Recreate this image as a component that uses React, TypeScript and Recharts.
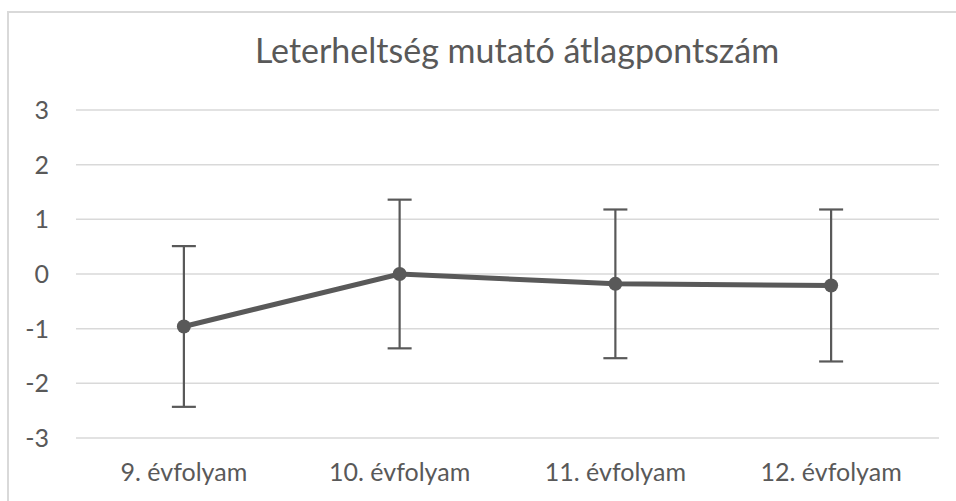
import { CartesianGrid, ErrorBar, Line, LineChart, XAxis, YAxis } from 'recharts';

const grades = ['9. évfolyam', '10. évfolyam', '11. évfolyam', '12. évfolyam'];
const meanScores = [-0.96, 0.0, -0.18, -0.21];
const errorSizes = [1.47, 1.36, 1.36, 1.39];
const yTicks = [-3, -2, -1, 0, 1, 2, 3];

const chartData = grades.map((grade, i) => ({
  grade,
  mean: meanScores[i],
  err: errorSizes[i],
}));

const ink = '#595959';
const fontFamily = "'Gill Sans', 'Gill Sans MT', Lato, sans-serif";

export default function App() {
  return (
    <div style={{ position: 'absolute', left: 0, top: 0, width: 956, height: 501, background: '#fff', overflow: 'hidden', fontFamily }}>
      <div
        style={{
          position: 'absolute',
          left: 7,
          top: 11,
          width: 1000,
          height: 600,
          borderLeft: '2px solid #d9d9d9',
          borderTop: '2px solid #d9d9d9',
        }}
      />
      <div
        style={{
          position: 'absolute',
          left: 0,
          width: 1034,
          top: 29,
          textAlign: 'center',
          fontSize: 34,
          color: ink,
          lineHeight: '42px',
        }}
      >
        Leterheltség mutató átlagpontszám
      </div>
      <div style={{ position: 'absolute', left: 0, top: 0 }}>
        <LineChart width={956} height={501} data={chartData} margin={{ top: 110, right: 17, bottom: 23, left: 16 }}>
          <CartesianGrid vertical={false} stroke="#d9d9d9" strokeWidth={1.5} />
          <XAxis
            dataKey="grade"
            scale="band"
            axisLine={false}
            tickLine={false}
            height={40}
            tickMargin={19}
            tick={{ fontSize: 25, fill: ink, fontFamily }}
          />
          <YAxis
            type="number"
            domain={[-3, 3]}
            ticks={yTicks}
            width={60}
            axisLine={false}
            tickLine={false}
            tickMargin={21}
            tick={{ fontSize: 25, fill: ink, fontFamily }}
          />
          <Line
            type="linear"
            dataKey="mean"
            stroke={ink}
            strokeWidth={5}
            dot={{ r: 7, fill: ink, stroke: ink, strokeWidth: 0 }}
            activeDot={false}
            isAnimationActive={false}
          >
            <ErrorBar dataKey="err" width={12} stroke={ink} strokeWidth={2.2} direction="y" isAnimationActive={false} />
          </Line>
        </LineChart>
      </div>
    </div>
  );
}
